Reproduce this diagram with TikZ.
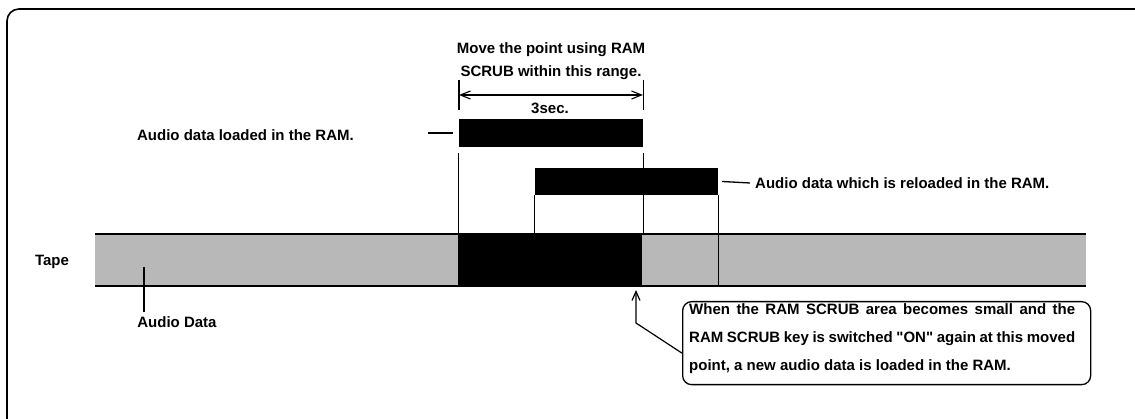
\documentclass[tikz,border=0pt]{standalone}
\usepackage{fontspec}
\setmainfont{Liberation Sans}[Ligatures=TeXOff]
\usetikzlibrary{arrows.meta}
\begin{document}
\begin{tikzpicture}[x=1pt,y=-1pt,
  txt/.style={font=\fontsize{15}{23}\selectfont\bfseries, inner sep=0pt},
  bar/.style={fill=black, draw=none, inner sep=0pt},
  tapeband/.style={fill=black!28, draw=none, inner sep=0pt},
  thinline/.style={line width=1.3pt},
  edge/.style={line width=2.2pt},
  tip/.style={-{Straight Barb[length=9pt,width=8pt]}, line width=1.2pt},
  dim/.style={{Straight Barb[length=10pt,width=8pt]}-{Straight Barb[length=10pt,width=8pt]}, line width=1.1pt},
  notebox/.style={draw, line width=1.3pt, rounded corners=9pt, inner sep=0pt, minimum width=408pt, minimum height=83pt}
]
\useasboundingbox (0,0) rectangle (1135,419);
% outer frame
\begin{scope}
\clip (0,0) rectangle (1135,419);
\draw[line width=1.6pt, rounded corners=12pt] (7,9) rectangle (1150,440);
\end{scope}

% tape
\node[tapeband, minimum width=991pt, minimum height=52pt] (tape) at (590.5,260) {};
\node[bar, minimum width=184pt, minimum height=52pt] (tapeblk) at (550,260) {};
\draw[edge] (tape.north west) -- (tape.north east);
\draw[edge] (tape.south west) -- (tape.south east);

% RAM bars
\node[bar, minimum width=184pt, minimum height=28pt] (ram1) at (551,133) {};
\draw[thinline] ([yshift=-6pt]ram1.south west) -- (ram1.south west |- tape.north);
\draw[thinline] ([yshift=-6pt]ram1.south east) -- (ram1.south east |- tape.north);
\node[bar, minimum width=183pt, minimum height=27pt] (ram2) at (626.5,181.5) {};
\draw[thinline] (ram2.south west) -- (ram2.south west |- tape.north);
\draw[thinline] (ram2.south east) -- (ram2.south east |- tape.south);

% dimension
\coordinate (dl) at (459,95);
\coordinate (dr) at (643,95);
\draw[thinline] ([yshift=15pt]dl) -- ([yshift=-15pt]dl);
\draw[line width=0.9pt] ([yshift=15pt]dr) -- ([yshift=-15pt]dr);
\draw[dim] (dl) -- (dr);
\node[txt, align=center] (range) at (551,61) {Move the point using RAM\\SCRUB within this range.};
\node[txt] (sec) at (550,108) {3sec.};

% labels
\node[txt, anchor=east] (lbl1) at (354,135) {Audio data loaded in the RAM.};
\draw[thinline] ([xshift=-6pt]ram1.west) -- ([xshift=-31pt]ram1.west);
\node[txt, anchor=west] (lbl2) at (755,183) {Audio data which is reloaded in the RAM.};
\draw[thinline] ([xshift=4pt]ram2.east) -- ([xshift=-5pt]lbl2.west);
\node[txt] (tapelbl) at (52,262) {Tape};
\node[txt] (adata) at (177,322) {Audio Data};
\coordinate (adtop) at (144,267);
\draw[thinline] (adtop) -- (adtop |- 0,312);

% note
\node[notebox, anchor=north west] (note) at (682,301) {};
\node[txt, anchor=north west, align=left, font=\fontsize{15}{28}\selectfont\bfseries] (notetxt) at (689,303)
 {\hbox to 386pt{When the RAM SCRUB area becomes small and the}\\\hbox to 386pt{RAM SCRUB key is switched "ON" again at this moved}\\point, a new audio data is loaded in the RAM.};
\coordinate (bend) at (636,323);
\draw[tip] ([yshift=-10pt]note.west) -- (bend) -- (bend |- 0,290);
\end{tikzpicture}
\end{document}
